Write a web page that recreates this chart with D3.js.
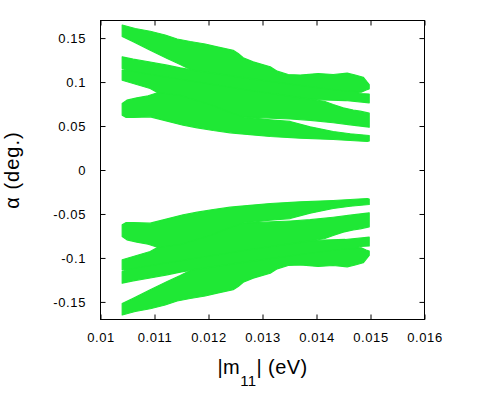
<!DOCTYPE html>
<html><head><meta charset="utf-8">
<script src="https://cdn.jsdelivr.net/npm/d3@7"></script>
<style>
body{margin:0;background:#fff}
svg text{font-family:"Liberation Sans",Arial,Helvetica,sans-serif;fill:#000}
</style>
</head><body>
<svg id="chart" width="500" height="400"></svg>
<script>
// ---- data ----
const xTicks = [0.010, 0.011, 0.012, 0.013, 0.014, 0.015, 0.016];
const xTickLabels = ["0.01", "0.011", "0.012", "0.013", "0.014", "0.015", "0.016"];
const yTicks = [0.15, 0.1, 0.05, 0, -0.05, -0.1, -0.15];
const yTickLabels = ["0.15", "0.1", "0.05", "0", "-0.05", "-0.1", "-0.15"];

// outlines [|m11|, alpha] of the dense point bands (upper half)
const bandP = [[0.010402,0.1649],[0.010643,0.1609],[0.010920,0.1578],[0.011198,0.1535],[0.011420,0.1490],[0.011661,0.1461],[0.011939,0.1433],[0.012161,0.1401],[0.012457,0.1362],[0.012550,0.1325],[0.012643,0.1276],[0.012828,0.1230],[0.013143,0.1174],[0.013272,0.1124],[0.013476,0.1086],[0.013698,0.1080],[0.014031,0.1097],[0.014309,0.1086],[0.014569,0.1101],[0.014717,0.1080],[0.014865,0.1055],[0.014939,0.0998],[0.014976,0.0972],[0.014976,0.0923],[0.014920,0.0910],[0.014828,0.0885],[0.014717,0.0881],[0.014439,0.0881],[0.013698,0.0927],[0.012772,0.0995],[0.011754,0.1120],[0.011624,0.1154],[0.011476,0.1200],[0.011235,0.1268],[0.010920,0.1362],[0.010606,0.1458],[0.010402,0.1518]];
const bandQ = [[0.010402,0.1287],[0.010606,0.1260],[0.010920,0.1228],[0.011235,0.1192],[0.011476,0.1162],[0.011661,0.1143],[0.011754,0.1131],[0.012772,0.1040],[0.013698,0.0961],[0.014439,0.0904],[0.014717,0.0893],[0.014809,0.0870],[0.014976,0.0864],[0.014976,0.0764],[0.014531,0.0790],[0.014143,0.0796],[0.013698,0.0813],[0.012772,0.0847],[0.011846,0.0904],[0.010920,0.1018],[0.010550,0.1120],[0.010402,0.1154]];
const bandR = [[0.010402,0.1135],[0.010550,0.1126],[0.010920,0.1086],[0.011846,0.0995],[0.012772,0.0904],[0.013698,0.0824],[0.014143,0.0782],[0.014309,0.0745],[0.014494,0.0707],[0.014680,0.0682],[0.014809,0.0669],[0.014976,0.0646],[0.014976,0.0487],[0.014624,0.0514],[0.014309,0.0537],[0.013883,0.0565],[0.013513,0.0580],[0.013143,0.0591],[0.012643,0.0603],[0.012402,0.0620],[0.011846,0.0699],[0.011069,0.0876],[0.010920,0.0927],[0.010606,0.0984],[0.010402,0.1021]];
const bandS = [[0.010402,0.0756],[0.010489,0.0794],[0.010674,0.0821],[0.010883,0.0844],[0.011069,0.0881],[0.011476,0.0847],[0.012031,0.0745],[0.012402,0.0654],[0.012643,0.0603],[0.013143,0.0571],[0.013513,0.0552],[0.013883,0.0491],[0.014309,0.0438],[0.014624,0.0412],[0.014976,0.0392],[0.014976,0.0330],[0.014939,0.0324],[0.014309,0.0347],[0.013698,0.0362],[0.013143,0.0381],[0.012717,0.0404],[0.012402,0.0423],[0.012087,0.0449],[0.011791,0.0480],[0.011531,0.0509],[0.011235,0.0555],[0.010920,0.0605],[0.010606,0.0597],[0.010476,0.0597],[0.010402,0.0623]];

// lower half (negative alpha branch)
const bandPneg = [[0.010402,-0.1649],[0.010643,-0.1609],[0.010920,-0.1578],[0.011198,-0.1535],[0.011420,-0.1490],[0.011661,-0.1461],[0.011939,-0.1433],[0.012161,-0.1401],[0.012457,-0.1362],[0.012550,-0.1325],[0.012643,-0.1276],[0.012828,-0.1230],[0.013143,-0.1174],[0.013272,-0.1124],[0.013476,-0.1086],[0.013698,-0.1080],[0.014031,-0.1097],[0.014309,-0.1086],[0.014569,-0.1101],[0.014717,-0.1080],[0.014865,-0.1055],[0.014939,-0.0998],[0.014976,-0.0972],[0.014976,-0.0923],[0.014920,-0.0910],[0.014828,-0.0885],[0.014717,-0.0881],[0.014439,-0.0881],[0.013698,-0.0927],[0.012772,-0.0995],[0.011754,-0.1120],[0.011624,-0.1154],[0.011476,-0.1200],[0.011235,-0.1268],[0.010920,-0.1362],[0.010606,-0.1458],[0.010402,-0.1518]];
const bandQneg = [[0.010402,-0.1287],[0.010606,-0.1260],[0.010920,-0.1228],[0.011235,-0.1192],[0.011476,-0.1162],[0.011661,-0.1143],[0.011754,-0.1131],[0.012772,-0.1040],[0.013698,-0.0961],[0.014439,-0.0904],[0.014717,-0.0893],[0.014809,-0.0870],[0.014976,-0.0864],[0.014976,-0.0764],[0.014531,-0.0790],[0.014143,-0.0796],[0.013698,-0.0813],[0.012772,-0.0847],[0.011846,-0.0904],[0.010920,-0.1018],[0.010550,-0.1120],[0.010402,-0.1154]];
const bandRneg = [[0.010402,-0.1135],[0.010550,-0.1126],[0.010920,-0.1086],[0.011846,-0.0995],[0.012772,-0.0904],[0.013698,-0.0824],[0.014143,-0.0782],[0.014309,-0.0745],[0.014494,-0.0707],[0.014680,-0.0682],[0.014809,-0.0669],[0.014976,-0.0646],[0.014976,-0.0487],[0.014624,-0.0514],[0.014309,-0.0537],[0.013883,-0.0565],[0.013513,-0.0580],[0.013143,-0.0591],[0.012643,-0.0603],[0.012402,-0.0620],[0.011846,-0.0699],[0.011069,-0.0876],[0.010920,-0.0927],[0.010606,-0.0984],[0.010402,-0.1021]];
const bandSneg = [[0.010402,-0.0756],[0.010489,-0.0794],[0.010674,-0.0821],[0.010883,-0.0844],[0.011069,-0.0881],[0.011476,-0.0847],[0.012031,-0.0745],[0.012402,-0.0654],[0.012643,-0.0603],[0.013143,-0.0571],[0.013513,-0.0552],[0.013883,-0.0491],[0.014309,-0.0438],[0.014624,-0.0412],[0.014976,-0.0392],[0.014976,-0.0330],[0.014939,-0.0324],[0.014309,-0.0347],[0.013698,-0.0362],[0.013143,-0.0381],[0.012717,-0.0404],[0.012402,-0.0423],[0.012087,-0.0449],[0.011791,-0.0480],[0.011531,-0.0509],[0.011235,-0.0555],[0.010920,-0.0605],[0.010606,-0.0597],[0.010476,-0.0597],[0.010402,-0.0623]];

const bands = [bandP, bandQ, bandR, bandS, bandPneg, bandQneg, bandRneg, bandSneg];

// ---- drawing ----
const green = "#1fe835";
const svg = d3.select("#chart");
svg.append("rect").attr("width", 500).attr("height", 400).attr("fill", "#fff");

const x = d3.scaleLinear().domain([0.010, 0.016]).range([100.5, 424.5]);
const y = d3.scaleLinear().domain([-0.17, 0.17]).range([319.5, 20.5]);

const line = d3.line().x(d => x(d[0])).y(d => y(d[1])).curve(d3.curveLinearClosed);
svg.append("g").selectAll("path").data(bands).join("path")
  .attr("d", line)
  .attr("fill", green)
  .attr("stroke", green)
  .attr("stroke-width", 1.2)
  .attr("stroke-linejoin", "round");

function styleAxis(g) {
  g.select(".domain").remove();
  g.selectAll(".tick line").attr("stroke", "#000").attr("stroke-width", 1);
  g.selectAll(".tick text").attr("font-size", 13).attr("letter-spacing", "0.6px")
    .attr("font-family", "'Liberation Sans',Arial,sans-serif").attr("fill", "#000");
}

svg.append("g").attr("transform", "translate(0,319.5)")
  .call(d3.axisBottom(x).tickValues(xTicks).tickFormat((d, i) => xTickLabels[i])
    .tickSizeInner(-5).tickSizeOuter(0).tickPadding(13))
  .call(styleAxis);
svg.append("g").attr("transform", "translate(0,20.5)")
  .call(d3.axisTop(x).tickValues(xTicks).tickFormat("")
    .tickSizeInner(-5).tickSizeOuter(0))
  .call(styleAxis);
svg.append("g").attr("transform", "translate(100.5,0)")
  .call(d3.axisLeft(y).tickValues(yTicks).tickFormat((d, i) => yTickLabels[i])
    .tickSizeInner(-5).tickSizeOuter(0).tickPadding(14.5))
  .call(styleAxis);
svg.append("g").attr("transform", "translate(424.5,0)")
  .call(d3.axisRight(y).tickValues(yTicks).tickFormat("")
    .tickSizeInner(-5).tickSizeOuter(0))
  .call(styleAxis);

// frame
svg.append("rect")
  .attr("x", x.range()[0]).attr("y", y.range()[1])
  .attr("width", x.range()[1] - x.range()[0])
  .attr("height", y.range()[0] - y.range()[1])
  .attr("fill", "none").attr("stroke", "#000").attr("stroke-width", 1);

// axis titles
const xt = svg.append("text")
  .attr("x", (x.range()[0] + x.range()[1]) / 2).attr("y", 374)
  .attr("text-anchor", "middle").attr("font-size", 20).attr("letter-spacing", "0.4px");
xt.append("tspan").text("|m");
xt.append("tspan").attr("font-size", 15).attr("dy", 12).text("11");
xt.append("tspan").attr("dy", -12).text("| (eV)");

svg.append("text")
  .attr("transform", "translate(18.5," + y(0) + ") rotate(-90)")
  .attr("text-anchor", "middle").attr("font-size", 20).attr("letter-spacing", "1px")
  .text("α (deg.)");
</script>
</body></html>
